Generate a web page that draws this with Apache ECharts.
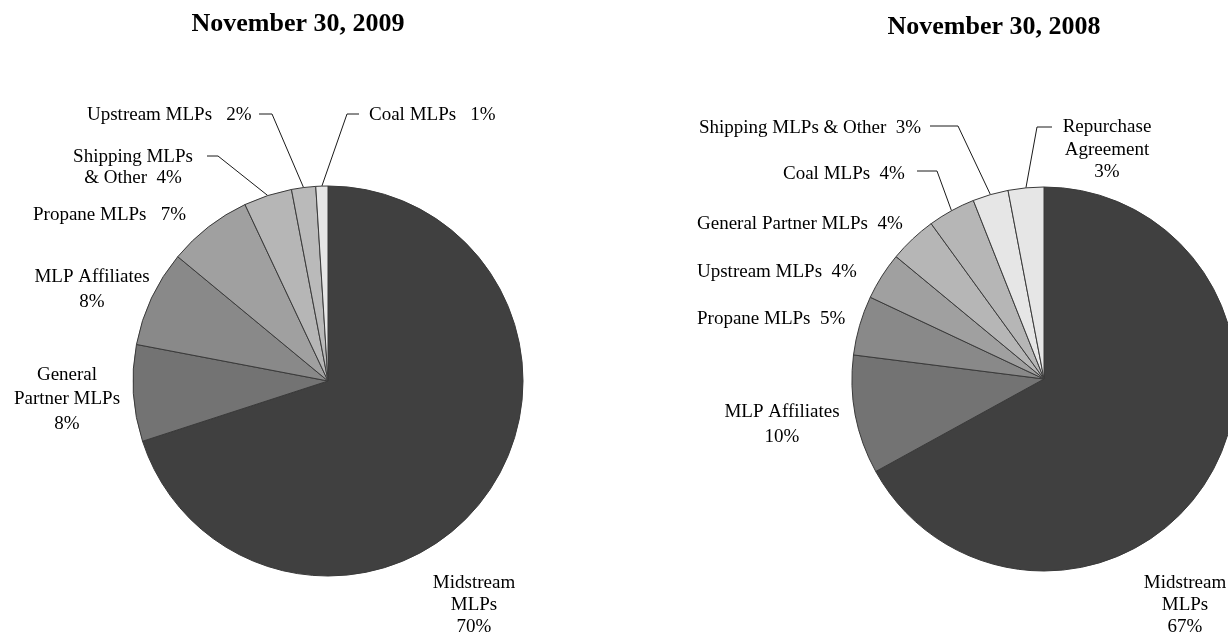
<!DOCTYPE html>
<html><head><meta charset="utf-8">
<script src="https://cdn.jsdelivr.net/npm/echarts@6/dist/echarts.min.js"></script>
<style>html,body{margin:0;padding:0;background:#fff}#c{width:1228px;height:634px}</style>
</head><body><div id="c"></div>
<script>
// ---- data ----
const titles = ['November 30, 2009', 'November 30, 2008'];

const cats2009 = ['Midstream MLPs', 'General Partner MLPs', 'MLP Affiliates', 'Propane MLPs', 'Shipping MLPs & Other', 'Upstream MLPs', 'Coal MLPs'];
const vals2009 = [70, 8, 8, 7, 4, 2, 1];
const labelText2009 = ['Midstream\nMLPs\n{v}', 'General\nPartner MLPs\n{v}', 'MLP Affiliates\n{v}', 'Propane MLPs   {v}', 'Shipping MLPs\n& Other  {v}', 'Upstream MLPs   {v}', 'Coal MLPs   {v}'];

const cats2008 = ['Midstream MLPs', 'MLP Affiliates', 'Propane MLPs', 'Upstream MLPs', 'General Partner MLPs', 'Coal MLPs', 'Shipping MLPs & Other', 'Repurchase Agreement'];
const vals2008 = [67, 10, 5, 4, 4, 4, 3, 3];
const labelText2008 = ['Midstream\nMLPs\n{v}', 'MLP Affiliates\n{v}', 'Propane MLPs  {v}', 'Upstream MLPs  {v}', 'General Partner MLPs  {v}', 'Coal MLPs  {v}', 'Shipping MLPs & Other  {v}', 'Repurchase\nAgreement\n{v}'];

// ---- styles / layout ----
const colors2009 = ['#404040', '#737373', '#898989', '#a0a0a0', '#b6b6b6', '#bababa', '#e6e6e6'];
const colors2008 = ['#404040', '#737373', '#898989', '#a0a0a0', '#b6b6b6', '#b6b6b6', '#e6e6e6', '#e6e6e6'];

const FONT = '"Liberation Serif", "Times New Roman", serif';

const layout2009 = [
  {x: 474, y: 605, align: 'center', lh: 22},
  {x: 67, y: 399.5, align: 'center', lh: 24.5},
  {x: 92, y: 289.5, align: 'center', lh: 25},
  {x: 33, y: 215, align: 'left', lh: 22},
  {x: 133, y: 168, align: 'center', lh: 21, line: [[218, 156], [207, 156]]},
  {x: 87, y: 115, align: 'left', lh: 22, line: [[272, 114], [259, 114]]},
  {x: 369, y: 115, align: 'left', lh: 22, line: [[347, 114], [359, 114]]}
];
const layout2008 = [
  {x: 1185, y: 605, align: 'center', lh: 22},
  {x: 782, y: 424.5, align: 'center', lh: 25},
  {x: 697, y: 319, align: 'left', lh: 22},
  {x: 697, y: 272, align: 'left', lh: 22},
  {x: 697, y: 224, align: 'left', lh: 22},
  {x: 783, y: 174, align: 'left', lh: 22, line: [[937, 171], [917, 171]]},
  {x: 699, y: 128, align: 'left', lh: 22, line: [[958, 126], [930, 126]]},
  {x: 1107, y: 150, align: 'center', lh: 22.5, line: [[1037, 127], [1052, 127]]}
];

function buildSeries(cats, vals, texts, colors, lay, center, radius) {
  return {
    type: 'pie',
    center: center,
    radius: radius,
    startAngle: 90,
    clockwise: true,
    avoidLabelOverlap: false,
    silent: true,
    animation: false,
    itemStyle: {borderColor: '#3a3a3a', borderWidth: 1},
    label: {
      show: true, position: 'outside', fontFamily: FONT, fontSize: 19, color: '#000',
      formatter: p => texts[p.dataIndex].replace('{v}', p.value + '%')
    },
    labelLine: {show: true, length: 10, length2: 10, smooth: false, lineStyle: {color: '#1a1a1a', width: 1}},
    labelLayout: function (p) {
      const L = lay[p.dataIndex];
      const out = {x: L.x, y: L.y, align: L.align, verticalAlign: 'middle'};
      if (L.line && p.labelLinePoints) {
        out.labelLinePoints = [p.labelLinePoints[0], L.line[0], L.line[1]];
      }
      return out;
    },
    data: cats.map((n, i) => ({
      name: n, value: vals[i],
      itemStyle: {color: colors[i]},
      label: {lineHeight: lay[i].lh},
      labelLine: {show: !!lay[i].line}
    }))
  };
}

const chart = echarts.init(document.getElementById('c'), null, {renderer: 'canvas'});
chart.setOption({
  backgroundColor: '#fff',
  animation: false,
  graphic: [
    {type: 'text', x: 298, y: 24, style: {text: titles[0], fontFamily: FONT, fontWeight: 'bold', fontSize: 26, fill: '#000', align: 'center', verticalAlign: 'middle'}},
    {type: 'text', x: 994, y: 27, style: {text: titles[1], fontFamily: FONT, fontWeight: 'bold', fontSize: 26, fill: '#000', align: 'center', verticalAlign: 'middle'}}
  ],
  series: [
    buildSeries(cats2009, vals2009, labelText2009, colors2009, layout2009, [328, 381], 195),
    buildSeries(cats2008, vals2008, labelText2008, colors2008, layout2008, [1044, 379], 192)
  ]
});
</script>
</body></html>
